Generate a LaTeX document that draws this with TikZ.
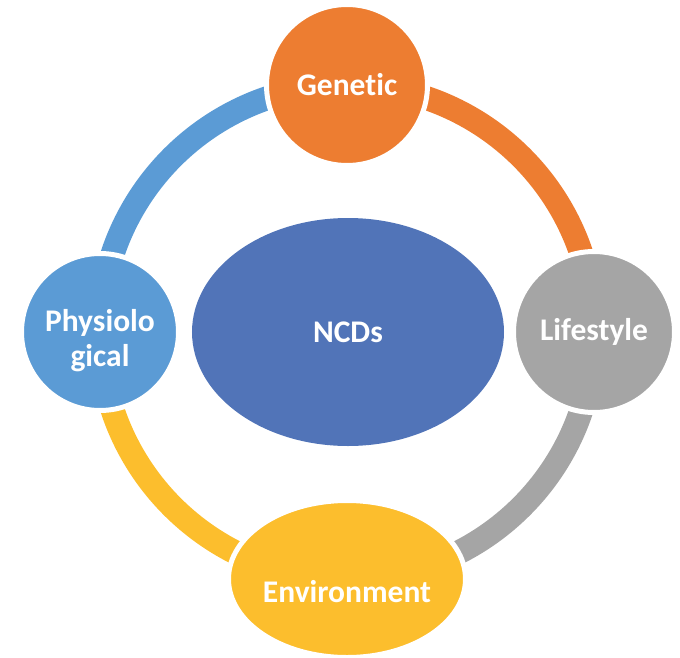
\documentclass[tikz,border=0pt]{standalone}
\usepackage{fontspec}
\setmainfont{Carlito}[Ligatures=NoCommon]
\usetikzlibrary{shapes.geometric,backgrounds}

\definecolor{genorange}{RGB}{237,125,49}
\definecolor{lifegray}{RGB}{165,165,165}
\definecolor{envyellow}{RGB}{252,190,45}
\definecolor{physblue}{RGB}{91,155,213}
\definecolor{ncdblue}{RGB}{81,116,184}

\begin{document}
\begin{tikzpicture}[
  x=1pt, y=1pt,
  font=\fontsize{31.5}{35}\selectfont\bfseries,
  caption/.style={text=white, align=center, inner sep=0pt},
  factor/.style={
    circle, draw=white, line width=5pt, caption,
    minimum size=161pt
  },
  genbox/.style={factor, fill=genorange},
  lifebox/.style={factor, fill=lifegray},
  physbox/.style={factor, fill=physblue, minimum size=157pt},
  envbox/.style={
    factor, ellipse, fill=envyellow,
    minimum width=237pt, minimum height=157pt
  },
  ncdbox/.style={
    ellipse, fill=ncdblue, caption,
    minimum width=312pt, minimum height=228pt
  },
  ring/.style={line width=24pt, line cap=butt}
]
\useasboundingbox (-347,-325) rectangle (333,332);

% ---------- centre ----------
\node[ncdbox] (ncd) at (1,0) {NCDs};

% ---------- the four factors round the ring ----------
\node[genbox]  (gen)  at (90:247)  {Genetic};
\node[lifebox] (life) at (0:247)   {Lifestyle};
\node[envbox, label={[caption, yshift=-13pt]center:Environment}] (env) at (-90:247) {};
\node[physbox, label={[caption, yshift=-9pt]center:Physiolo\\gical}] (phys) at (180:247) {};

% ring segments, each in the colour of the factor it leaves (clockwise)
\begin{scope}[on background layer]
  \draw[ring, genorange] (gen.center)  arc[start angle=90,  end angle=0,   radius=247];
  \draw[ring, lifegray]  (life.center) arc[start angle=0,   end angle=-90, radius=247];
  \draw[ring, envyellow] (env.center)  arc[start angle=-90, end angle=-180, radius=247];
  \draw[ring, physblue]  (phys.center) arc[start angle=180, end angle=90,  radius=247];
\end{scope}

\end{tikzpicture}
\end{document}
